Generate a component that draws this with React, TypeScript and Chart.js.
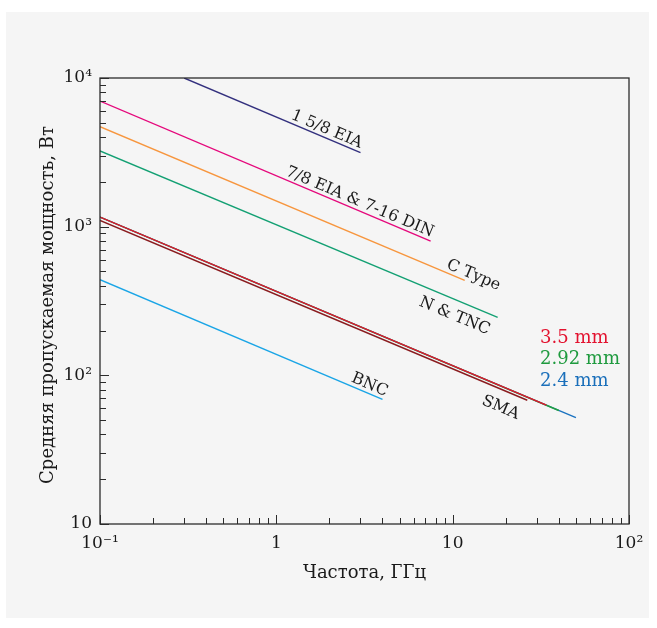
import React, { useEffect, useRef } from 'react';
import { Chart, registerables } from 'chart.js';

Chart.register(...registerables);

// ---- Axis ticks ----
const xTickValues = [0.1, 1, 10, 100];
const xTickLabels = ['10⁻¹', '1', '10', '10²'];
const yTickValues = [10, 100, 1000, 10000];
const yTickLabels = ['10', '10²', '10³', '10⁴'];

const xTitle = 'Частота, ГГц';
const yTitle = 'Средняя пропускаемая мощность, Вт';

// ---- Series (frequency GHz, average power W) ----
const eia158Freq = [0.3, 3];
const eia158Power = [10000, 3150];
const eia78Freq = [0.1, 7.5];
const eia78Power = [7000, 800];
const cTypeFreq = [0.1, 11.7];
const cTypePower = [4700, 435];
const nTncFreq = [0.1, 18];
const nTncPower = [3230, 245];
const mm35Freq = [0.1, 34];
const mm35Power = [1160, 63];
const mm292Freq = [0.1, 40];
const mm292Power = [1160, 58];
const mm24Freq = [0.1, 50];
const mm24Power = [1160, 52];
const smaFreq = [0.1, 26.5];
const smaPower = [1100, 68];
const bncFreq = [0.1, 4];
const bncPower = [440, 69];

// ---- Line labels: text, dataset index, anchor frequency, baseline offset (+ above / - below) ----
const lineLabelTexts = ['1 5/8 EIA', '7/8 EIA & 7-16 DIN', 'C Type', 'N & TNC', 'SMA', 'BNC'];
const lineLabelSeries = [0, 1, 2, 3, 7, 8];
const lineLabelFreq = [1.85, 2.85, 12.6, 11.07, 20.4, 3.24];
const lineLabelOffset = [4, 4, 4, -19.5, -21.5, 4];

const legendTexts = ['3.5 mm', '2.92 mm', '2.4 mm'];
const legendColors = ['#e3122f', '#1e9a3e', '#1a6fba'];

const FONT = '"DejaVu Serif", serif';

const zip = (fs: number[], ps: number[]) => fs.map((f, i) => ({ x: f, y: ps[i] }));

function decadeTicks(lo: number, hi: number) {
  const out: { value: number }[] = [];
  for (let e = lo; e < hi; e++) {
    for (let m = 1; m <= 9; m++) out.push({ value: m * Math.pow(10, e) });
  }
  out.push({ value: Math.pow(10, hi) });
  return out;
}

function isMajor(v: number) {
  const l = Math.log10(v);
  return Math.abs(l - Math.round(l)) < 1e-6;
}

function labelFor(vals: number[], labels: string[], value: number) {
  const i = vals.findIndex((t) => Math.abs(Math.log10(t) - Math.log10(value)) < 1e-6);
  return i >= 0 ? labels[i] : '';
}

const decorPlugin = {
  id: 'decor',
  afterDatasetsDraw(chart: any) {
    const { ctx, chartArea, scales } = chart;
    const xs = scales.x;
    const ys = scales.y;
    ctx.save();
    // frame
    ctx.strokeStyle = '#2b2b2b';
    ctx.lineWidth = 1.3;
    ctx.strokeRect(chartArea.left, chartArea.top, chartArea.right - chartArea.left, chartArea.bottom - chartArea.top);
    // inward ticks
    ctx.lineWidth = 1;
    ctx.beginPath();
    xs.ticks.forEach((t: any) => {
      const px = Math.round(xs.getPixelForValue(t.value)) + 0.5;
      const len = isMajor(t.value) ? 9 : 6;
      ctx.moveTo(px, chartArea.bottom);
      ctx.lineTo(px, chartArea.bottom - len);
    });
    ys.ticks.forEach((t: any) => {
      const py = Math.round(ys.getPixelForValue(t.value)) + 0.5;
      const len = isMajor(t.value) ? 9 : 6;
      ctx.moveTo(chartArea.left, py);
      ctx.lineTo(chartArea.left + len, py);
    });
    ctx.stroke();

    // y axis title
    ctx.fillStyle = '#1a1a1a';
    ctx.font = '18px ' + FONT;
    ctx.textAlign = 'center';
    ctx.textBaseline = 'alphabetic';
    ctx.save();
    ctx.translate(chartArea.left - 47, (chartArea.top + chartArea.bottom) / 2 + 4);
    ctx.rotate(-Math.PI / 2);
    ctx.fillText(yTitle, 0, 0);
    ctx.restore();

    // rotated line labels
    ctx.font = '16px ' + FONT;
    lineLabelTexts.forEach((text, i) => {
      const ds = chart.data.datasets[lineLabelSeries[i]].data;
      const a = ds[0];
      const b = ds[ds.length - 1];
      const x0 = xs.getPixelForValue(a.x), y0 = ys.getPixelForValue(a.y);
      const x1 = xs.getPixelForValue(b.x), y1 = ys.getPixelForValue(b.y);
      const ang = Math.atan2(y1 - y0, x1 - x0);
      const f = lineLabelFreq[i];
      const lp = Math.log10(a.y) + ((Math.log10(f) - Math.log10(a.x)) * (Math.log10(b.y) - Math.log10(a.y))) / (Math.log10(b.x) - Math.log10(a.x));
      const px = xs.getPixelForValue(f);
      const py = ys.getPixelForValue(Math.pow(10, lp));
      ctx.save();
      ctx.translate(px, py);
      ctx.rotate(ang);
      ctx.fillText(text, 0, -lineLabelOffset[i]);
      ctx.restore();
    });

    // legend for precision connectors
    ctx.font = '18px ' + FONT;
    ctx.textAlign = 'left';
    ctx.textBaseline = 'middle';
    const lx = xs.getPixelForValue(31.3);
    const ly0 = ys.getPixelForValue(178);
    legendTexts.forEach((t, i) => {
      ctx.fillStyle = legendColors[i];
      ctx.fillText(t, lx, ly0 + i * 21.5);
    });
    ctx.restore();
  },
};

export default function App() {
  const ref = useRef<HTMLCanvasElement | null>(null);

  useEffect(() => {
    if (!ref.current) return;
    const mk = (label: string, color: string, fs: number[], ps: number[]) => ({
      label,
      data: zip(fs, ps),
      borderColor: color,
      backgroundColor: color,
      borderWidth: 1.4,
      pointRadius: 0,
      fill: false,
      tension: 0,
    });
    const chart = new Chart(ref.current, {
      type: 'line',
      data: {
        datasets: [
          mk('1 5/8 EIA', '#33307e', eia158Freq, eia158Power),
          mk('7/8 EIA & 7-16 DIN', '#e5087c', eia78Freq, eia78Power),
          mk('C Type', '#f7963e', cTypeFreq, cTypePower),
          mk('N & TNC', '#13a073', nTncFreq, nTncPower),
          mk('3.5 mm', '#e8112d', mm35Freq, mm35Power),
          mk('2.92 mm', '#22a040', mm292Freq, mm292Power),
          mk('2.4 mm', '#1a72c0', mm24Freq, mm24Power),
          mk('SMA', '#8a1c1f', smaFreq, smaPower),
          mk('BNC', '#1aa5e6', bncFreq, bncPower),
        ],
      },
      options: {
        animation: false,
        responsive: false,
        maintainAspectRatio: false,
        layout: { padding: { left: 24, top: 78, right: 28, bottom: 40 } },
        plugins: { legend: { display: false }, tooltip: { enabled: false } },
        scales: {
          x: {
            type: 'logarithmic',
            min: 0.1,
            max: 100,
            grid: { display: false, drawTicks: false },
            border: { display: false },
            afterBuildTicks: (s: any) => { s.ticks = decadeTicks(-1, 2); },
            afterFit: (s: any) => { s.height = 64; s.paddingLeft = 0; s.paddingRight = 0; },
            ticks: {
              autoSkip: false,
              maxRotation: 0,
              padding: 9,
              color: '#1a1a1a',
              font: { family: FONT, size: 17 },
              callback: (v: any) => labelFor(xTickValues, xTickLabels, Number(v)),
            },
            title: {
              display: true,
              text: xTitle,
              color: '#1a1a1a',
              font: { family: FONT, size: 18 },
              padding: { top: 4, bottom: 4 },
            },
          },
          y: {
            type: 'logarithmic',
            min: 10,
            max: 10000,
            grid: { display: false, drawTicks: false },
            border: { display: false },
            afterBuildTicks: (s: any) => { s.ticks = decadeTicks(1, 4); },
            afterFit: (s: any) => { s.width = 76; s.paddingTop = 0; s.paddingBottom = 0; },
            ticks: {
              autoSkip: false,
              padding: 8,
              color: '#1a1a1a',
              font: { family: FONT, size: 17 },
              callback: (v: any) => labelFor(yTickValues, yTickLabels, Number(v)),
            },
            title: { display: false },
          },
        },
      },
      plugins: [decorPlugin],
    } as any);
    return () => chart.destroy();
  }, []);

  return (
    <div style={{ position: 'fixed', left: 0, top: 0, width: 657, height: 628, background: '#ffffff' }}>
      <div style={{ position: 'absolute', left: 6, top: 12, width: 643, height: 606, background: '#f5f5f5' }} />
      <canvas ref={ref} width={657} height={628} style={{ position: 'absolute', left: 0, top: 0, width: 657, height: 628 }} />
    </div>
  );
}
